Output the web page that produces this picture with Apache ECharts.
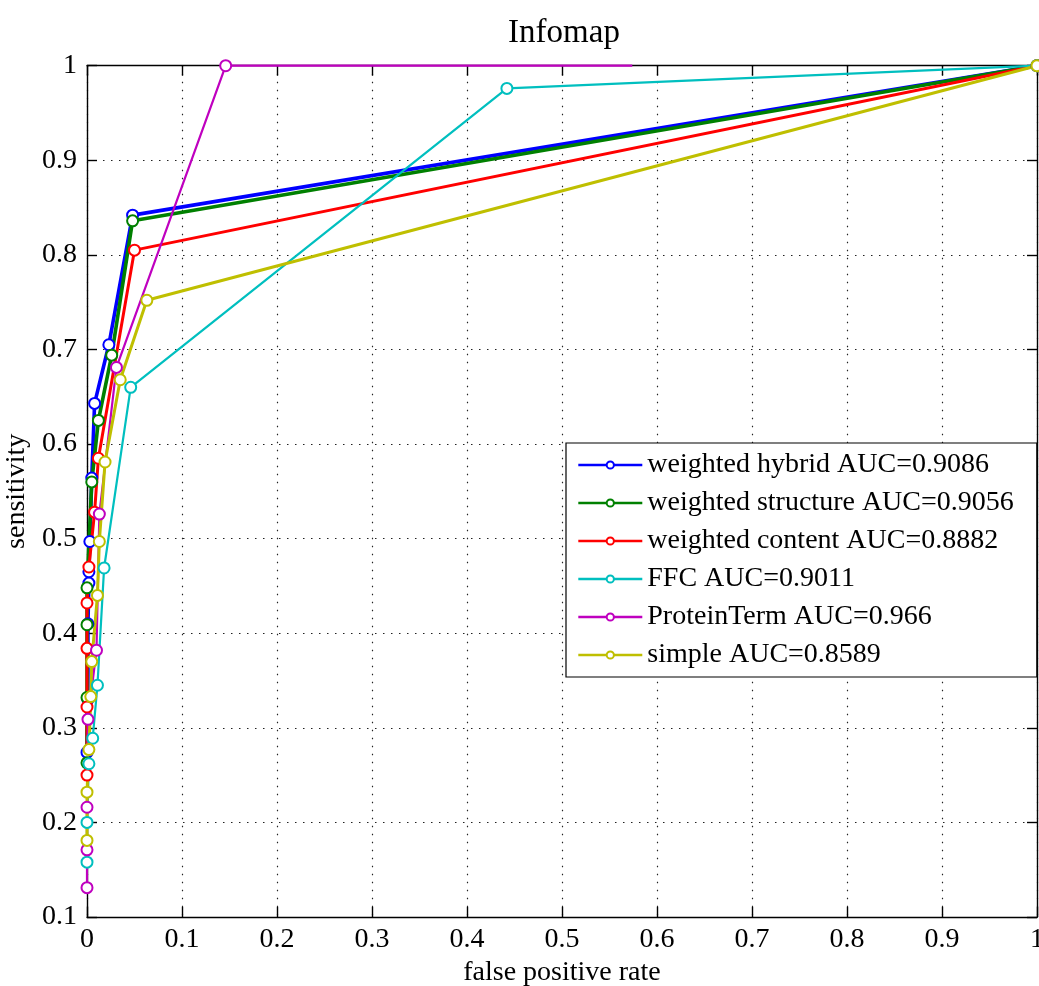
<!DOCTYPE html>
<html>
<head>
<meta charset="utf-8">
<script src="https://cdn.jsdelivr.net/npm/echarts@6/dist/echarts.min.js"></script>
<style>
  html, body { margin: 0; padding: 0; background: #fff; overflow: hidden; }
  #chart { width: 1039px; height: 986px; }
</style>
</head>
<body>
<div id="chart"></div>
<script>
// ROC curves for Infomap clustering: [false positive rate, sensitivity]
const seriesNames = [
  'weighted hybrid AUC=0.9086',
  'weighted structure AUC=0.9056',
  'weighted content AUC=0.8882',
  'FFC AUC=0.9011',
  'ProteinTerm AUC=0.966',
  'simple AUC=0.8589'
];
const hybrid = [[0,0.274],[0.001,0.33],[0.001,0.41],[0.002,0.453],[0.002,0.465],[0.003,0.497],[0.005,0.564],[0.008,0.643],[0.023,0.705],[0.048,0.842],[1,1]];
const structure = [[0,0.263],[0,0.332],[0,0.409],[0,0.448],[0.005,0.56],[0.012,0.625],[0.026,0.694],[0.048,0.836],[1,1]];
const content = [[0,0.25],[0,0.322],[0,0.384],[0,0.432],[0.002,0.47],[0.008,0.528],[0.012,0.585],[0.05,0.805],[1,1]];
const ffc = [[0,0.158],[0,0.2],[0.002,0.262],[0.006,0.289],[0.011,0.345],[0.018,0.469],[0.046,0.66],[0.442,0.976],[1,1]];
const proteinTerm = [[0,0.131],[0,0.171],[0,0.216],[0.001,0.309],[0.01,0.382],[0.013,0.526],[0.031,0.681],[0.146,1.0],[0.574,1.0]];
const simple = [[0,0.181],[0,0.232],[0.002,0.277],[0.004,0.333],[0.005,0.37],[0.011,0.44],[0.013,0.497],[0.019,0.581],[0.035,0.668],[0.063,0.752],[1,1]];
// the ProteinTerm trace stops without a marker at its last point
const proteinTermMarkerless = [8];

const xTicks = ['0','0.1','0.2','0.3','0.4','0.5','0.6','0.7','0.8','0.9','1'];
const yTicks = ['0.1','0.2','0.3','0.4','0.5','0.6','0.7','0.8','0.9','1'];

const FONT = 'Liberation Serif';
const colors = ['#0000ff', '#008000', '#ff0000', '#00bfbf', '#bf00bf', '#bfbf00'];
const widths = [3.6, 3.6, 3, 2.2, 2.2, 3];
const allData = [hybrid, structure, content, ffc, proteinTerm, simple];

function fmtX(v) {
  const i = Math.round(v * 10);
  return xTicks[i] !== undefined ? xTicks[i] : '';
}
function fmtY(v) {
  const i = Math.round(v * 10) - 1;
  return yTicks[i] !== undefined ? yTicks[i] : '';
}

const gridLine = { show: true, lineStyle: { color: '#222', type: [1.5, 6.5], width: 1.2 } };
const axisLine = { show: true, onZero: false, lineStyle: { color: '#000', width: 1.4 } };
const axisTick = { show: true, inside: true, length: 10, lineStyle: { color: '#000', width: 1.4 } };

const series = allData.map((d, si) => ({
  name: seriesNames[si],
  type: 'line',
  xAxisIndex: 0,
  yAxisIndex: 0,
  clip: false,
  symbol: 'emptyCircle',
  symbolSize: 11,
  showAllSymbol: true,
  data: d.map((p, i) => (si === 4 && proteinTermMarkerless.includes(i))
    ? { value: p, symbol: 'none' } : p),
  lineStyle: { color: colors[si], width: widths[si] },
  itemStyle: { color: colors[si], borderColor: colors[si], borderWidth: 1.8 },
  emphasis: { disabled: true },
  animation: false
}));

const chart = echarts.init(document.getElementById('chart'), null, { renderer: 'canvas' });
chart.setOption({
  backgroundColor: '#fff',
  animation: false,
  title: {
    text: 'Infomap',
    left: 559, textAlign: 'center',
    top: 12,
    textStyle: { fontFamily: FONT, fontSize: 33, fontWeight: 'normal', color: '#000' }
  },
  grid: { left: 87, right: 2, top: 65.7, bottom: 69, containLabel: false, outerBoundsMode: 'none' },
  legend: {
    orient: 'vertical',
    left: 566, top: 443,
    backgroundColor: '#fff',
    borderColor: '#000', borderWidth: 1.2,
    padding: [8, 23, 8, 11],
    itemWidth: 64, itemHeight: 9, itemGap: 10,
    lineStyle: { width: 2.6 },
    itemStyle: { borderWidth: 1.8 },
    textStyle: { fontFamily: FONT, fontSize: 28, color: '#000' },
    data: seriesNames
  },
  xAxis: [{
    type: 'value', min: 0, max: 1, interval: 0.1, position: 'bottom',
    name: 'false positive rate', nameLocation: 'middle', nameGap: 40,
    nameTextStyle: { fontFamily: FONT, fontSize: 28, color: '#000' },
    axisLine, axisTick, splitLine: gridLine,
    axisLabel: { fontFamily: FONT, fontSize: 28, color: '#000', margin: 9, formatter: fmtX }
  }, {
    type: 'value', min: 0, max: 1, interval: 0.1, position: 'top',
    axisLine, axisTick, splitLine: { show: false }, axisLabel: { show: false }
  }],
  yAxis: [{
    type: 'value', min: 0.1, max: 1, interval: 0.1, position: 'left',
    name: 'sensitivity', nameLocation: 'middle', nameGap: 50, nameRotate: 90,
    nameTextStyle: { fontFamily: FONT, fontSize: 28, color: '#000' },
    axisLine, axisTick, splitLine: gridLine,
    axisLabel: { fontFamily: FONT, fontSize: 28, color: '#000', margin: 10, formatter: fmtY }
  }, {
    type: 'value', min: 0.1, max: 1, interval: 0.1, position: 'right',
    axisLine, axisTick, splitLine: { show: false }, axisLabel: { show: false }
  }],
  series
});
</script>
</body>
</html>
